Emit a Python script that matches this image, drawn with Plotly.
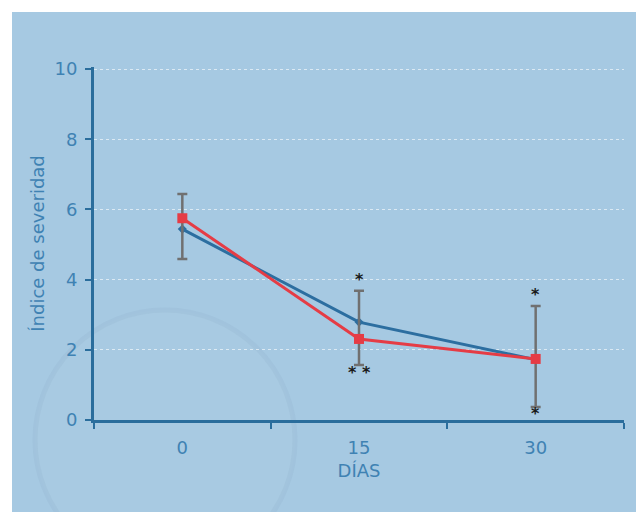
import plotly.graph_objects as go

dias = ["0", "15", "30"]
serie_azul = [5.44, 2.79, 1.72]
serie_roja = [5.75, 2.31, 1.74]
err_sup = [6.44, 3.68, 3.25]
err_inf = [4.59, 1.57, 0.37]
estrellas_arriba = ["", "*", "*"]
estrellas_abajo = ["", "* *", "*"]
pos_arriba = [None, 4.0, 3.58]
pos_abajo = [None, 1.34, 0.18]

AX = "#2a6d9c"
TXT = "#3f82b3"
BG = "#a6c9e2"

W, H = 636, 512
L, R, T, B = 94, 12, 67, 92
PW, PH = W - L - R, H - T - B


def px(x):
    return (x - L) / PW


def py(y):
    return (H - B - y) / PH


fig = go.Figure()

fig.add_trace(go.Scatter(
    x=dias, y=serie_azul, mode="lines+markers",
    line=dict(color="#2c6ea0", width=3),
    marker=dict(color="#2c6ea0", size=7, symbol="diamond"),
    showlegend=False,
))
fig.add_trace(go.Scatter(
    x=dias, y=serie_roja, mode="lines+markers",
    line=dict(color="#e53c45", width=3),
    marker=dict(color="#e53c45", size=10, symbol="square"),
    error_y=dict(type="data", symmetric=False,
                 array=[s - r for s, r in zip(err_sup, serie_roja)],
                 arrayminus=[r - i for r, i in zip(serie_roja, err_inf)],
                 color="#707070", thickness=2.5, width=5),
    showlegend=False,
))

for i, (t, p) in enumerate(zip(estrellas_arriba, pos_arriba)):
    if t:
        fig.add_annotation(x=i, y=p, text="<b>" + t + "</b>", showarrow=False,
                           font=dict(size=16, color="#1a1a1a", family="DejaVu Sans"))
for i, (t, p) in enumerate(zip(estrellas_abajo, pos_abajo)):
    if t:
        fig.add_annotation(x=i, y=p, text="<b>" + t + "</b>", showarrow=False,
                           font=dict(size=16, color="#1a1a1a", family="DejaVu Sans"))

shapes = [
    # blue page background (white strip top/left as in reference)
    dict(type="rect", xref="paper", yref="paper", layer="below",
         x0=px(12), x1=px(W + 5), y0=py(H + 5), y1=py(12),
         fillcolor=BG, line=dict(width=0)),
    # faint bubble decoration
    dict(type="circle", xref="paper", yref="paper", layer="below",
         x0=px(35), x1=px(295), y0=py(570), y1=py(310),
         fillcolor="rgba(255,255,255,0.03)",
         line=dict(color="rgba(120,150,175,0.10)", width=5)),
]

fig.update_layout(
    width=W, height=H,
    margin=dict(l=L, r=R, t=T, b=B),
    paper_bgcolor="white", plot_bgcolor="rgba(0,0,0,0)",
    font=dict(family="DejaVu Sans", color=TXT, size=18),
    shapes=shapes,
    xaxis=dict(
        type="category", range=[-0.5, len(dias) - 0.5], tickson="boundaries",
        showline=True, linecolor=AX, linewidth=3,
        ticks="outside", ticklen=6, tickwidth=2, tickcolor=AX,
        showgrid=False, zeroline=False,
        ticklabelstandoff=9,
        title=dict(text="DÍAS", font=dict(size=18, color=TXT), standoff=8),
        tickfont=dict(size=18, color=TXT),
    ),
    yaxis=dict(
        range=[0, 10.06], tickvals=[0, 2, 4, 6, 8, 10],
        showline=True, linecolor=AX, linewidth=3,
        ticks="outside", ticklen=6, tickwidth=2, tickcolor=AX,
        showgrid=True, gridcolor="rgba(255,255,255,0.6)", griddash="dot", gridwidth=1,
        zeroline=False,
        ticklabelstandoff=4,
        title=dict(text="Índice de severidad", font=dict(size=18, color=TXT), standoff=6),
        tickfont=dict(size=18, color=TXT),
    ),
)

fig.write_html("out.html", config={"displayModeBar": False},
               post_script="document.body.style.margin='0';")
